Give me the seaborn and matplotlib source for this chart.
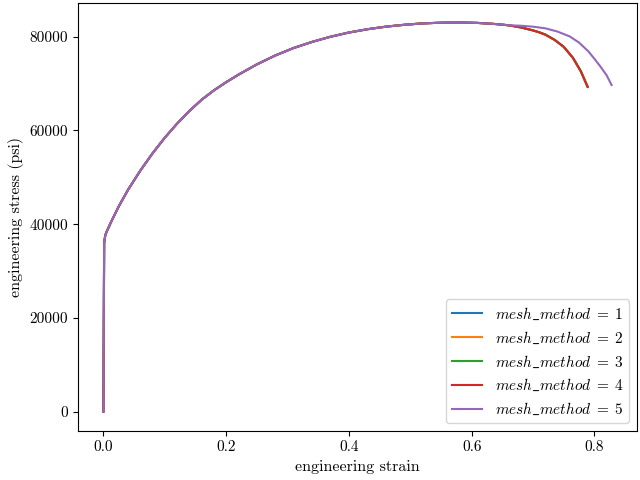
import numpy as np
import pandas as pd
import matplotlib
matplotlib.use("Agg")
import matplotlib.pyplot as plt
import seaborn as sns

# Shared part of the curves (elastic + hardening)
base_strain = [0.0, 0.0012, 0.003, 0.005, 0.013, 0.025, 0.04, 0.06, 0.08, 0.10, 0.12,
               0.14, 0.16, 0.18, 0.20, 0.22, 0.25, 0.28, 0.31, 0.34, 0.37, 0.40,
               0.43, 0.46, 0.49, 0.52, 0.55, 0.58, 0.61, 0.64, 0.66]
base_stress = [0, 36000, 37600, 38300, 40600, 43800, 47300, 51400, 55100, 58450, 61450,
               64150, 66550, 68550, 70300, 71900, 74100, 76000, 77600, 78900, 80000, 80900,
               81600, 82150, 82550, 82850, 83000, 83050, 82950, 82700, 82450]

# Necking tails
tail_strain_1to4 = [0.68, 0.70, 0.71, 0.72, 0.735, 0.75, 0.765, 0.778, 0.789]
tail_stress_1to4 = [82000, 81350, 80950, 80450, 79350, 77850, 75500, 72600, 69300]
tail_strain_5 = [0.68, 0.70, 0.72, 0.74, 0.76, 0.775, 0.79, 0.80, 0.81, 0.82, 0.828]
tail_stress_5 = [82350, 82150, 81800, 81100, 80050, 78750, 76900, 75300, 73600, 71750, 69700]

methods = [1, 2, 3, 4, 5]

plt.rcParams['font.family'] = 'serif'
plt.rcParams['font.serif'] = ['cmr10']
plt.rcParams['font.size'] = 11
plt.rcParams['mathtext.fontset'] = 'cm'
plt.rcParams['axes.formatter.use_mathtext'] = True
plt.rcParams['axes.unicode_minus'] = False

rows = []
for m in methods:
    if m == 5:
        xs = base_strain + tail_strain_5
        ys = base_stress + tail_stress_5
    else:
        xs = base_strain + tail_strain_1to4
        ys = base_stress + tail_stress_1to4
    label = r"$mesh\_method\;=\;%d$" % m
    for x, y in zip(xs, ys):
        rows.append({"strain": x, "stress": y, "method": label})
df = pd.DataFrame(rows)

fig, ax = plt.subplots(figsize=(6.4, 4.8), dpi=100)
sns.lineplot(data=df, x="strain", y="stress", hue="method", palette="tab10",
             estimator=None, sort=False, ax=ax)
ax.set_xlabel("engineering strain", fontsize=11.5)
ax.set_ylabel("engineering stress (psi)", fontsize=11.5)
ax.legend(loc="lower right", title=None, fontsize=11)
ax.set_yticks([0, 20000, 40000, 60000, 80000])
ax.set_yticklabels(["0", "20000", "40000", "60000", "80000"])
ax.set_xticks([0.0, 0.2, 0.4, 0.6, 0.8])
ax.set_xticklabels(["0.0", "0.2", "0.4", "0.6", "0.8"])
fig.subplots_adjust(left=78/640, right=637/640, bottom=1-431/480, top=1-3/480)
fig.savefig("out.png", dpi=100)
